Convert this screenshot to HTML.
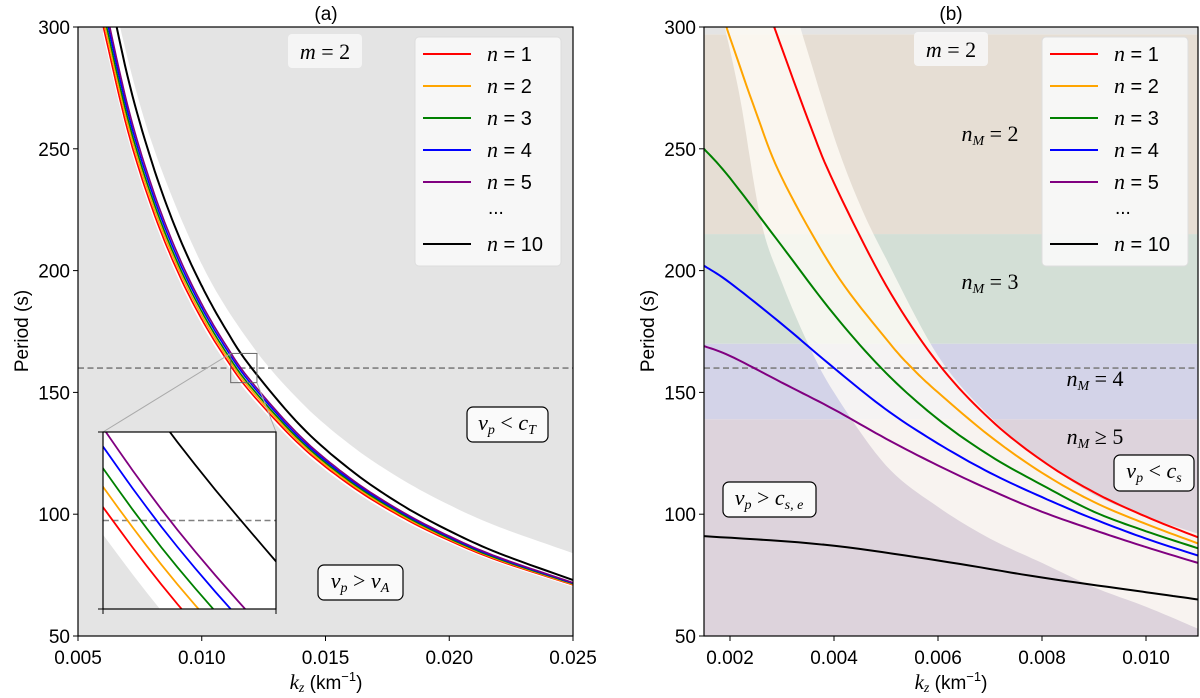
<!DOCTYPE html>
<html><head><meta charset="utf-8"><style>
html,body{margin:0;padding:0;background:#fff;width:1200px;height:698px;overflow:hidden;position:relative}
svg{font-family:"Liberation Sans",sans-serif;display:block;overflow:hidden}
</style></head><body>
<svg id="fig" width="1200" height="698" viewBox="0 0 1200 698" style="position:absolute;left:0;top:0">
<defs>
<clipPath id="clipA"><rect x="78" y="27" width="495" height="609"/></clipPath>
<clipPath id="clipB"><rect x="704" y="27" width="494" height="609"/></clipPath>
<clipPath id="clipI"><rect x="103" y="432" width="173" height="177"/></clipPath>
</defs>
</svg>
<script>
// ---------- Panel (a) data ----------
const kA = [0.006,0.007,0.008,0.009,0.010,0.011,0.012,0.014,0.016,0.018,0.020,0.022,0.025];
const aN1 = [301.1,257.8,225.4,200.2,180.0,163.5,149.7,128.1,111.9,99.3,89.2,80.9,71.0];
const aN2 = [304.3,260.5,227.6,202.1,181.6,164.9,151.0,129.1,112.7,99.9,89.7,81.3,71.2];
const aN3 = [307.3,262.9,229.7,203.8,183.2,166.2,152.1,130.0,113.4,100.5,90.1,81.6,71.5];
const aN4 = [310.5,265.5,231.9,205.7,184.8,167.7,153.4,130.9,114.1,101.1,90.6,82.0,71.7];
const aN5 = [313.4,268.0,234.0,207.5,186.3,169.0,154.5,131.8,114.8,101.6,91.0,82.3,71.9];
const aN10 = [327.8,279.9,244.0,216.0,193.7,175.4,160.2,136.2,118.3,104.3,93.2,84.0,73.0];
const kAUpper = [0.0062,0.0067,0.008,0.010,0.012,0.014,0.016,0.018,0.020,0.022,0.025];
const aUpper = [330,300,252,202.6,169.7,146.1,128.5,114.8,103.8,94.8,84.0];
const aLower = [297.5,254.8,222.8,197.9,177.9,161.6,148.0,126.6,110.6,98.1,88.2,80.0,70.2];
const xTicksA = [0.005,0.010,0.015,0.020,0.025];
const xTickLabelsA = ["0.005","0.010","0.015","0.020","0.025"];
const yTicks = [50,100,150,200,250,300];
const yTickLabels = ["50","100","150","200","250","300"];
const insetK = [0.01117,0.01223];
const insetP = [154,166];
// ---------- Panel (b) data ----------
const kB1 = [0.00285,0.0035,0.004,0.005,0.006,0.007,0.008,0.009,0.010,0.011];
const bN1 = [300,262,236,194,162,139,122,109,99,90.5];
const kB2 = [0.00193,0.0025,0.003,0.004,0.005,0.0055,0.006,0.007,0.008,0.009,0.010,0.011];
const bN2 = [300,265,238,200,172,160,150,132,117,105,96,88];
const kB = [0.0015,0.002,0.003,0.004,0.005,0.006,0.007,0.008,0.009,0.010,0.011];
const bN3 = [250,238,210,182,158,139,124,112,101,93,86];
const bN4 = [202,195,178,160,143,129,117,107,98,90,83];
const bN5 = [169,165,154,143,131,120,110,101,93.5,86.5,80];
const kB10 = [0.0015,0.0038,0.006,0.008,0.010,0.011];
const bN10 = [91,87.5,81,74,68,65];
const kBandL = [0.0019,0.0022,0.0026,0.003,0.0035,0.004,0.005,0.006,0.007,0.008,0.009,0.010,0.011];
const pBandL = [300,270,220,195,170,150,120,103,90,80,70,62,53];
const kBandR = [0.00335,0.004,0.0045,0.005,0.006,0.007,0.008,0.009,0.010,0.011];
const pBandR = [300,255,227,205,165,140,122,108,99,92];
const bandEdges = [50,139,170,215,297,300];
const bandColors = ["#ddd3dc","#d3d3e8","#d3dfd6","#e6ded4","#e4e4e4"];
const xTicksB = [0.002,0.004,0.006,0.008,0.010];
const xTickLabelsB = ["0.002","0.004","0.006","0.008","0.010"];
const colors = ["#ff0000","#ffa500","#008000","#0000ff","#800080","#000000"];
const legendLabels = ["1","2","3","4","5","10"];

const NS="http://www.w3.org/2000/svg";
const svg=document.getElementById('fig');
function mk(tag,attrs,parent){const e=document.createElementNS(NS,tag);for(const k in attrs)e.setAttribute(k,attrs[k]);(parent||svg).appendChild(e);return e;}
const xA=k=>78+(k-0.005)/0.020*495;
const yP=p=>27+(300-p)/250*609;
const xB=k=>704+(k-0.0015)/0.0095*494;
const xI=k=>103+(k-insetK[0])/(insetK[1]-insetK[0])*173;
const yI=p=>432+(insetP[1]-p)/(insetP[1]-insetP[0])*177;
function smoothPts(ks,ps,fx,fy){
  const P=ks.map((k,i)=>[fx(k),fy(ps[i])]);
  const out=[];
  for(let i=0;i<P.length-1;i++){
    const p0=P[Math.max(i-1,0)],p1=P[i],p2=P[i+1],p3=P[Math.min(i+2,P.length-1)];
    for(let t=0;t<1;t+=0.1){
      const t2=t*t,t3=t2*t;
      const f=j=>0.5*((2*p1[j])+(-p0[j]+p2[j])*t+(2*p0[j]-5*p1[j]+4*p2[j]-p3[j])*t2+(-p0[j]+3*p1[j]-3*p2[j]+p3[j])*t3);
      out.push([f(0),f(1)]);
    }
  }
  out.push(P[P.length-1]);
  return out;
}
// keep only points inside a box (plus small margin) so nothing extends outside the frame
function inBox(arr,x0,y0,x1,y1){return arr.filter(p=>p[0]>=x0&&p[0]<=x1&&p[1]>=y0&&p[1]<=y1);}
function ptsStr(arr){return arr.map(p=>p[0].toFixed(1)+','+p[1].toFixed(1)).join(' ');}

// ---- Panel A ----
const gA=mk('g',{'clip-path':'url(#clipA)'});


let r=mk('rect',{x:78,y:27,width:495,height:609,fill:'#e4e4e4'},gA);


function whiteBand(g,fx,fy,box){
  let up=smoothPts(kAUpper,aUpper,fx,fy);
  let lo=smoothPts(kA,aLower,fx,fy).reverse();
  let all=up.concat(lo);
  if(box) all=all.map(p=>[Math.min(Math.max(p[0],box[0]),box[2]),Math.min(Math.max(p[1],box[1]),box[3])]);
  const p=mk('polygon',{points:ptsStr(all),fill:'#ffffff'},g);
  
  
}
whiteBand(gA,xA,yP,[78,0,573,698]);
const aSeries=[aN1,aN2,aN3,aN4,aN5,aN10];
let d=mk('line',{x1:78,x2:573,y1:yP(160),y2:yP(160),stroke:'#808080','stroke-width':1.6,'stroke-dasharray':'6,3.5'},gA);


aSeries.forEach((s,i)=>{const l=mk('polyline',{points:ptsStr(smoothPts(kA,s,xA,yP)),fill:'none',stroke:colors[i],'stroke-width':i==5?2:1.6},gA);
 
 });
const bx0=xA(insetK[0]),bx1=xA(insetK[1]),by0=yP(insetP[1]),by1=yP(insetP[0]);
let zb=mk('rect',{x:bx0,y:by0,width:bx1-bx0,height:by1-by0,fill:'none',stroke:'#666','stroke-width':1});


let c1=mk('line',{x1:bx0,y1:by0,x2:103,y2:432,stroke:'#aaa','stroke-width':1});


let c2=mk('line',{x1:bx1,y1:by1,x2:276,y2:432,stroke:'#aaa','stroke-width':1});


// inset
const gI=mk('g',{'clip-path':'url(#clipI)'});


r=mk('rect',{x:103,y:432,width:173,height:177,fill:'#e4e4e4'},gI);


whiteBand(gI,xI,yI,[90,420,290,620]);
d=mk('line',{x1:103,x2:276,y1:yI(160),y2:yI(160),stroke:'#808080','stroke-width':1.6,'stroke-dasharray':'6,3.5'},gI);


aSeries.forEach((s,i)=>{const l=mk('polyline',{points:ptsStr(inBox(smoothPts(kA,s,xI,yI),60,400,320,640)),fill:'none',stroke:colors[i],'stroke-width':1.8},gI);
 
 });
r=mk('rect',{x:103,y:432,width:173,height:177,fill:'none',stroke:'#000','stroke-width':1.2});


[[103,432,98,432],[103,609,98,609],[103,609,103,614],[276,609,276,614]].forEach(t=>{const l=mk('line',{x1:t[0],y1:t[1],x2:t[2],y2:t[3],stroke:'#000'});
 
 });

// ---- Panel B ----
const gB=mk('g',{'clip-path':'url(#clipB)'});


bandColors.forEach((c,i)=>{const b=mk('rect',{x:704,y:yP(bandEdges[i+1]),width:494,height:yP(bandEdges[i])-yP(bandEdges[i+1]),fill:c},gB);
 
 });
{const up=smoothPts(kBandL,pBandL,xB,yP);
 const lo=smoothPts(kBandR,pBandR,xB,yP).reverse();
 const p=mk('polygon',{points:ptsStr(up.concat(lo)),fill:'#fffdf6','fill-opacity':0.78},gB);
 
 }
d=mk('line',{x1:704,x2:1198,y1:yP(160),y2:yP(160),stroke:'#808080','stroke-width':1.6,'stroke-dasharray':'6,3.5'},gB);


[[kB1,bN1],[kB2,bN2],[kB,bN3],[kB,bN4],[kB,bN5],[kB10,bN10]].forEach((s,i)=>{const l=mk('polyline',{points:ptsStr(smoothPts(s[0],s[1],xB,yP)),fill:'none',stroke:colors[i],'stroke-width':2},gB);
 
 });

// ---- Axes ----
function axes(x0,x1,ticks,labels,fx,name){
  const f=mk('rect',{x:x0,y:27,width:x1-x0,height:609,fill:'none',stroke:'#000','stroke-width':1.2});
  
  
  ticks.forEach((t,i)=>{const x=fx(t);
    const l=mk('line',{x1:x,x2:x,y1:636,y2:641,stroke:'#000'});
    
    
    const tx=mk('text',{x:x,y:664,'text-anchor':'middle','font-size':19});
    tx.textContent=labels[i];
    
    });
  yTicks.forEach((t,i)=>{const y=yP(t);
    const l=mk('line',{x1:x0-5,x2:x0,y1:y,y2:y,stroke:'#000'});
    
    
    const tx=mk('text',{x:x0-8,y:y+7,'text-anchor':'end','font-size':19});
    tx.textContent=yTickLabels[i];
    
    });
}
axes(78,573,xTicksA,xTickLabelsA,xA,'panel-a');
axes(704,1198,xTicksB,xTickLabelsB,xB,'panel-b');
</script>
<svg width="1200" height="698" style="position:absolute;left:0;top:0">
<g font-family="Liberation Sans" font-size="19">
<text x="326" y="20" text-anchor="middle">(a)</text>
<text x="951" y="20" text-anchor="middle">(b)</text>
<text transform="translate(28,331) rotate(-90)" text-anchor="middle">Period (s)</text>
<text transform="translate(654,331) rotate(-90)" text-anchor="middle">Period (s)</text>
<text x="326" y="689" text-anchor="middle"><tspan font-family="Liberation Serif" font-style="italic" font-size="21">k</tspan><tspan font-family="Liberation Serif" font-style="italic" font-size="14" dy="3">z</tspan><tspan dy="-3"> (km</tspan><tspan font-size="13" dy="-8">−1</tspan><tspan dy="8">)</tspan></text>
<text x="951" y="689" text-anchor="middle"><tspan font-family="Liberation Serif" font-style="italic" font-size="21">k</tspan><tspan font-family="Liberation Serif" font-style="italic" font-size="14" dy="3">z</tspan><tspan dy="-3"> (km</tspan><tspan font-size="13" dy="-8">−1</tspan><tspan dy="8">)</tspan></text>
</g>
<g font-family="Liberation Serif" font-size="22" font-style="italic">
<rect x="288" y="34" width="74" height="34" rx="4" fill="#f6f6f6" fill-opacity="0.9"/>
<text x="325" y="59" text-anchor="middle">m <tspan font-style="normal">= 2</tspan></text>
<rect x="914" y="32" width="74" height="34" rx="4" fill="#f6f6f6" fill-opacity="0.9"/>
<text x="951" y="57" text-anchor="middle">m <tspan font-style="normal">= 2</tspan></text>
<rect x="467" y="407" width="81" height="35" rx="6" fill="#fafafa" stroke="#000" stroke-width="1.2"/>
<text x="507" y="430" text-anchor="middle">v<tspan font-size="14" dy="4">p</tspan><tspan dy="-4" font-style="normal"> &lt; </tspan>c<tspan font-size="14" dy="4">T</tspan></text>
<rect x="318" y="565" width="85" height="35" rx="6" fill="#fafafa" stroke="#000" stroke-width="1.2"/>
<text x="360" y="588" text-anchor="middle">v<tspan font-size="14" dy="4">p</tspan><tspan dy="-4" font-style="normal"> &gt; </tspan>v<tspan font-size="14" dy="4">A</tspan></text>
<rect x="1114" y="455" width="80" height="36" rx="6" fill="#fafafa" stroke="#000" stroke-width="1.2"/>
<text x="1154" y="478" text-anchor="middle">v<tspan font-size="14" dy="4">p</tspan><tspan dy="-4" font-style="normal"> &lt; </tspan>c<tspan font-size="14" dy="4">s</tspan></text>
<rect x="723" y="482" width="93" height="35" rx="6" fill="#fafafa" stroke="#000" stroke-width="1.2"/>
<text x="769" y="505" text-anchor="middle">v<tspan font-size="14" dy="4">p</tspan><tspan dy="-4" font-style="normal"> &gt; </tspan>c<tspan font-size="14" dy="4">s, e</tspan></text>
<text x="990" y="141" text-anchor="middle">n<tspan font-size="14" dy="4">M</tspan><tspan dy="-4" font-style="normal"> = 2</tspan></text>
<text x="990" y="289" text-anchor="middle">n<tspan font-size="14" dy="4">M</tspan><tspan dy="-4" font-style="normal"> = 3</tspan></text>
<text x="1095" y="386" text-anchor="middle">n<tspan font-size="14" dy="4">M</tspan><tspan dy="-4" font-style="normal"> = 4</tspan></text>
<text x="1095" y="444" text-anchor="middle">n<tspan font-size="14" dy="4">M</tspan><tspan dy="-4" font-style="normal"> ≥ 5</tspan></text>
</g>
<g id="legends"></g>
</svg>
<script>
(function(){
 const NS="http://www.w3.org/2000/svg";
 const g=document.getElementById('legends');
 [[415,'panel-a'],[1042,'panel-b']].forEach(([x0,name])=>{
  const box=document.createElementNS(NS,'rect');
  box.setAttribute('x',x0);box.setAttribute('y',37);box.setAttribute('width',146);box.setAttribute('height',229);
  box.setAttribute('rx',4);box.setAttribute('fill','#f8f8f8');box.setAttribute('fill-opacity','0.92');box.setAttribute('stroke','#ddd');
  
  
  g.appendChild(box);
  const rows=[54,86,118,150,182,244];
  legendLabels.forEach((lab,i)=>{
   const l=document.createElementNS(NS,'line');
   l.setAttribute('x1',x0+8);l.setAttribute('x2',x0+56);l.setAttribute('y1',rows[i]);l.setAttribute('y2',rows[i]);
   l.setAttribute('stroke',colors[i]);l.setAttribute('stroke-width',2);
   
   
   g.appendChild(l);
   const t=document.createElementNS(NS,'text');
   t.setAttribute('x',x0+72);t.setAttribute('y',rows[i]+7);t.setAttribute('font-size',20);
   t.setAttribute('font-family','Liberation Sans');
   t.innerHTML='<tspan font-family="Liberation Serif" font-style="italic" font-size="22">n</tspan> = '+lab;
   
   
   g.appendChild(t);
  });
  const dots=document.createElementNS(NS,'text');
  dots.setAttribute('x',x0+73);dots.setAttribute('y',214);dots.setAttribute('font-size',19);dots.setAttribute('font-family','Liberation Sans');
  dots.textContent='...';
  
  
  g.appendChild(dots);
 });
})();
</script>
</body></html>
